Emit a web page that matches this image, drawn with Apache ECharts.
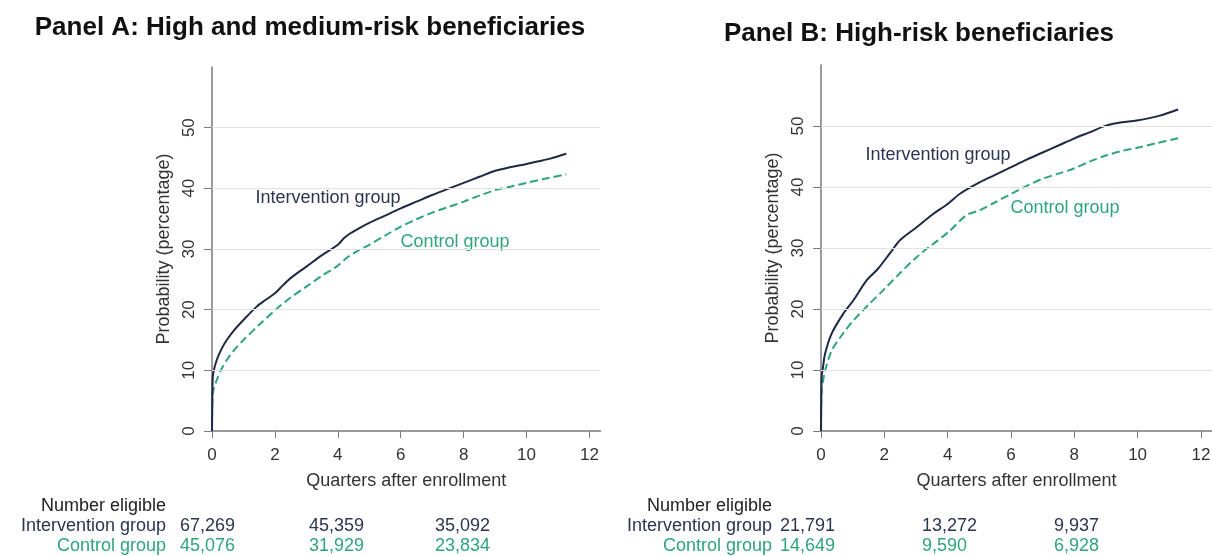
<!DOCTYPE html>
<html>
<head>
<meta charset="utf-8">
<script src="https://cdn.jsdelivr.net/npm/echarts@6/dist/echarts.min.js"></script>
<style>
html,body{margin:0;padding:0;background:#fff;}
#chart{width:1212px;height:556px;}
</style>
</head>
<body>
<div id="chart"></div>
<script>
// ---------- Data ----------
const panelTitles = ['Panel A: High and medium-risk beneficiaries', 'Panel B: High-risk beneficiaries'];
const groupNames = ['Intervention group', 'Control group'];
const tableHeader = 'Number eligible';
const xTicks = [0, 2, 4, 6, 8, 10, 12];
const yTicks = [0, 10, 20, 30, 40, 50];
const gridVals = [10, 20, 30, 40, 50];
const xTitle = 'Quarters after enrollment';
const yTitle = 'Probability (percentage)';

// Panel A
const aIntX = [0, 0.02, 0.05, 0.15, 0.3, 0.47, 0.7, 1.0, 1.42, 1.7, 2.0, 2.25, 2.5, 3.0, 3.5, 4.0, 4.2, 4.4, 4.7, 5.0, 5.5, 6.0, 6.5, 7.0, 7.5, 8.0, 8.5, 9.0, 9.5, 10.0, 10.5, 10.75, 11.26];
const aIntY = [0, 8.5, 9.8, 11.7, 13.5, 15.0, 16.6, 18.3, 20.5, 21.6, 22.7, 24.0, 25.2, 27.1, 29.0, 30.7, 31.8, 32.6, 33.5, 34.3, 35.5, 36.7, 37.8, 38.9, 39.9, 40.9, 41.9, 42.9, 43.5, 44.0, 44.6, 44.9, 45.7];
const aCtlX = [0, 0.02, 0.05, 0.15, 0.3, 0.47, 0.7, 1.0, 1.5, 2.0, 2.5, 3.0, 3.5, 3.96, 4.3, 4.6, 5.0, 5.5, 6.0, 6.5, 7.0, 7.5, 8.0, 8.5, 9.0, 9.5, 10.0, 10.5, 11.26];
const aCtlY = [0, 6.0, 6.9, 8.4, 10.2, 11.7, 13.3, 15.0, 17.5, 19.9, 22.0, 23.8, 25.6, 27.1, 28.6, 29.6, 30.7, 32.2, 33.7, 34.9, 36.0, 36.9, 37.8, 38.8, 39.7, 40.3, 40.9, 41.5, 42.3];
const aEligInt = ['67,269', '45,359', '35,092'];
const aEligCtl = ['45,076', '31,929', '23,834'];

// Panel B
const bIntX = [0, 0.02, 0.05, 0.13, 0.34, 0.7, 1.02, 1.44, 1.8, 2.2, 2.5, 3.02, 3.5, 4.02, 4.39, 5.02, 5.5, 6.02, 6.5, 7.02, 7.5, 7.97, 8.5, 9.02, 9.5, 9.97, 10.7, 11.28];
const bIntY = [0, 9.0, 10.0, 12.7, 16.0, 19.2, 21.4, 24.7, 26.6, 29.3, 31.3, 33.4, 35.4, 37.3, 38.9, 40.8, 42.0, 43.3, 44.5, 45.7, 46.8, 47.9, 49.0, 50.1, 50.6, 50.9, 51.7, 52.7];
const bCtlX = [0, 0.02, 0.05, 0.13, 0.34, 0.7, 1.02, 1.5, 1.97, 2.5, 3.02, 3.5, 4.02, 4.6, 5.02, 5.5, 6.02, 6.5, 7.02, 7.5, 7.97, 8.5, 9.02, 9.5, 9.97, 10.6, 11.28];
const bCtlY = [0, 7.0, 7.8, 9.9, 13.2, 16.0, 18.1, 20.7, 23.1, 25.9, 28.5, 30.5, 32.6, 35.4, 36.2, 37.5, 38.9, 40.2, 41.4, 42.2, 43.0, 44.2, 45.2, 45.9, 46.4, 47.2, 48.0];
const bEligInt = ['21,791', '13,272', '9,937'];
const bEligCtl = ['14,649', '9,590', '6,928'];

// ---------- Styles ----------
const NAVY = '#1f2945';
const NAVY_TEXT = '#2b3550';
const GREEN = '#2ea57b';
const FONT = '"Liberation Sans", Arial, Helvetica, sans-serif';
const AXIS = '#7a7a7a';

function pairs(xs, ys) { return xs.map((x, i) => [x, ys[i]]); }

function xAxisCfg(gi) {
  return {
    gridIndex: gi, type: 'value', min: 0, max: 12.35, interval: 2,
    name: xTitle, nameLocation: 'middle', nameGap: 41,
    nameTextStyle: { fontFamily: FONT, fontSize: 18, color: '#333' },
    axisLine: { show: true, onZero: false, lineStyle: { color: AXIS, width: 1.5 } },
    axisTick: { show: true, length: 7, customValues: xTicks, lineStyle: { color: AXIS } },
    axisLabel: { customValues: xTicks, margin: 16, fontFamily: FONT, fontSize: 17, color: '#333' },
    splitLine: { show: false }
  };
}
function yAxisCfg(gi) {
  return {
    gridIndex: gi, type: 'value', min: 0, max: 60, interval: 10,
    name: yTitle, nameLocation: 'middle', nameGap: 39, nameRotate: 90,
    nameTextStyle: { fontFamily: FONT, fontSize: 18, color: '#333' },
    axisLine: { show: true, onZero: false, lineStyle: { color: AXIS, width: 1.5 } },
    axisTick: { show: true, length: 8, customValues: yTicks, lineStyle: { color: AXIS } },
    axisLabel: { customValues: yTicks, rotate: 90, margin: 14, fontFamily: FONT, fontSize: 17, color: '#333' },
    splitLine: { show: false }
  };
}
function gridSeries(gi) {
  return {
    type: 'line', xAxisIndex: gi, yAxisIndex: gi, data: [], z: 1, silent: true,
    markLine: {
      silent: true, symbol: 'none', animation: false,
      label: { show: false },
      lineStyle: { color: '#e2e2e2', type: 'solid', width: 1.2 },
      data: gridVals.map(v => ({ yAxis: v }))
    }
  };
}
function curve(gi, xs, ys, color, dashed) {
  return {
    type: 'line', xAxisIndex: gi, yAxisIndex: gi, data: pairs(xs, ys),
    showSymbol: false, smooth: 0.3, z: 3, animation: false,
    lineStyle: { color: color, width: 2, type: dashed ? [8, 4] : 'solid' }
  };
}
function txt(x, y, s, opt) {
  return { type: 'text', x: x, y: y, style: Object.assign({ text: s, fontFamily: FONT, fontSize: 18, fill: '#222', textVerticalAlign: 'middle' }, opt || {}) };
}

const graphics = [
  txt(310, 28, panelTitles[0], { fontSize: 26, fontWeight: 'bold', fill: '#111', textAlign: 'center' }),
  txt(919, 34, panelTitles[1], { fontSize: 26, fontWeight: 'bold', fill: '#111', textAlign: 'center' }),
  txt(328, 198, groupNames[0], { fill: NAVY_TEXT, textAlign: 'center' }),
  txt(455, 242, groupNames[1], { fill: GREEN, textAlign: 'center' }),
  txt(938, 155, groupNames[0], { fill: NAVY_TEXT, textAlign: 'center' }),
  txt(1065, 208, groupNames[1], { fill: GREEN, textAlign: 'center' })
];
function table(rightX, numXs, ints, ctls) {
  graphics.push(txt(rightX, 506, tableHeader, { textAlign: 'right', fill: '#222' }));
  graphics.push(txt(rightX, 526, groupNames[0], { textAlign: 'right', fill: NAVY_TEXT }));
  graphics.push(txt(rightX, 546, groupNames[1], { textAlign: 'right', fill: GREEN }));
  numXs.forEach((nx, i) => {
    graphics.push(txt(nx, 526, ints[i], { textAlign: 'left', fill: NAVY_TEXT }));
    graphics.push(txt(nx, 546, ctls[i], { textAlign: 'left', fill: GREEN }));
  });
}
table(166, [180, 309, 435], aEligInt, aEligCtl);
table(772, [780, 922, 1054], bEligInt, bEligCtl);

const chart = echarts.init(document.getElementById('chart'), null, { renderer: 'canvas' });
chart.setOption({
  animation: false,
  backgroundColor: '#fff',
  grid: [
    { left: 212, top: 67, width: 388.5, height: 364, outerBoundsMode: 'none', containLabel: false },
    { left: 821, top: 65, width: 391, height: 366, outerBoundsMode: 'none', containLabel: false }
  ],
  xAxis: [xAxisCfg(0), xAxisCfg(1)],
  yAxis: [yAxisCfg(0), yAxisCfg(1)],
  series: [
    gridSeries(0), gridSeries(1),
    curve(0, aCtlX, aCtlY, GREEN, true),
    curve(0, aIntX, aIntY, NAVY, false),
    curve(1, bCtlX, bCtlY, GREEN, true),
    curve(1, bIntX, bIntY, NAVY, false)
  ],
  graphic: graphics
});
</script>
</body>
</html>
